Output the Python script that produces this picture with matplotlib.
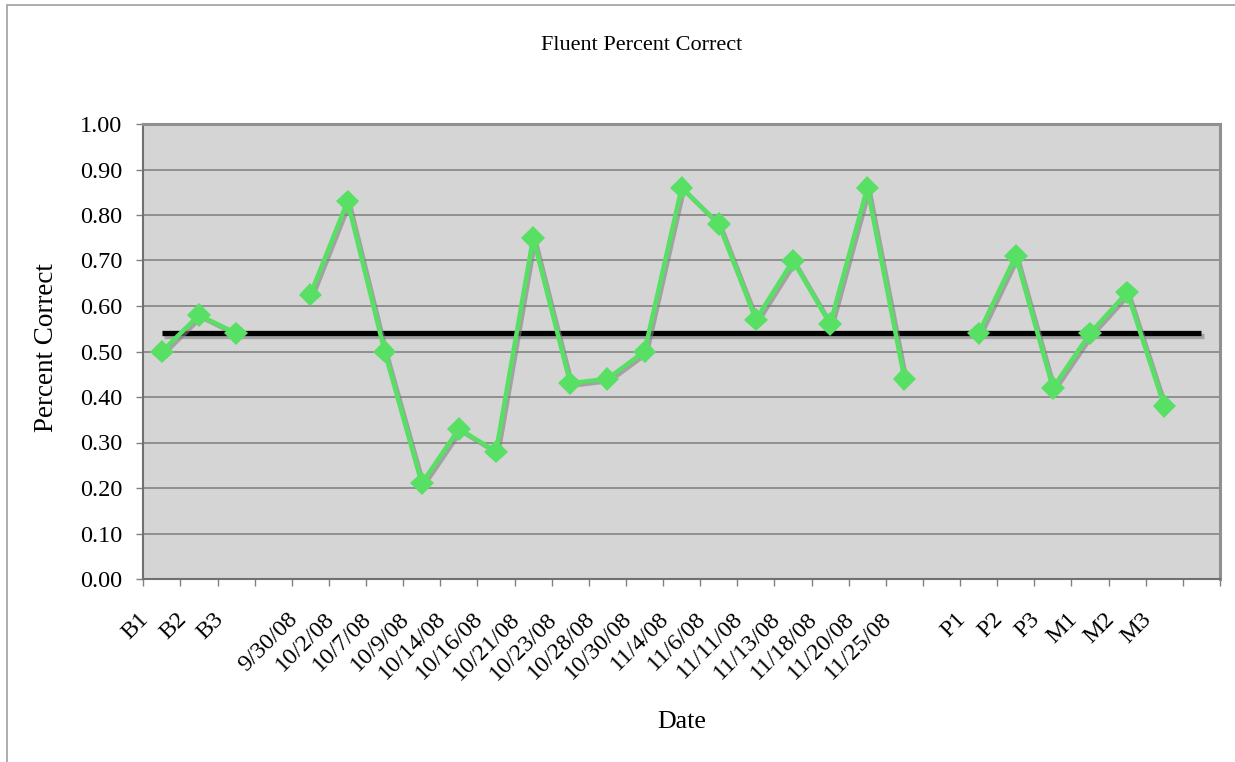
import numpy as np
import matplotlib
matplotlib.use("Agg")
import matplotlib.pyplot as plt
import matplotlib.patheffects as pe
from matplotlib.transforms import ScaledTranslation
from matplotlib.patches import Rectangle

# Categories (blank entries are the gaps between phases)
categories = ['B1', 'B2', 'B3', '',
              '9/30/08', '10/2/08', '10/7/08', '10/9/08', '10/14/08', '10/16/08',
              '10/21/08', '10/23/08', '10/28/08', '10/30/08', '11/4/08', '11/6/08',
              '11/11/08', '11/13/08', '11/18/08', '11/20/08', '11/25/08', '',
              'P1', 'P2', 'P3', 'M1', 'M2', 'M3', '']

# Fluent percent correct, None where there is no session
scores = [0.50, 0.58, 0.54, None,
          0.625, 0.83, 0.50, 0.21, 0.33, 0.28,
          0.75, 0.43, 0.44, 0.50, 0.86, 0.78,
          0.57, 0.70, 0.56, 0.86, 0.44, None,
          0.54, 0.71, 0.42, 0.54, 0.63, 0.38, None]

baseline_mean = 0.54  # mean of B1-B3

W, H = 1235, 762
fig = plt.figure(figsize=(W / 100, H / 100), dpi=100)
plt.rcParams['font.family'] = ['Liberation Serif', 'DejaVu Serif']

# outer chart frame (runs off the right and bottom of the picture)
fig.patches.append(Rectangle((7 / W, -0.1), 1.2, 1 - 5 / H + 0.1, transform=fig.transFigure,
                             fill=False, edgecolor='#a0a0a0', linewidth=1.2))

left, right, top, bottom = 143.3, 1220, 124, 579
ax = fig.add_axes([left / W, 1 - bottom / H, (right - left) / W, (bottom - top) / H])
ax.set_facecolor('#d5d5d5')

x = np.arange(len(categories))
y = np.array([np.nan if v is None else v for v in scores])
mean_line = np.full(len(categories), baseline_mean)

shadow = [pe.SimpleLineShadow(offset=(1.6, -1.6), shadow_color='#808080', alpha=0.6), pe.Normal()]

ax.plot(x, mean_line, color='black', linewidth=3.8, solid_capstyle='butt',
        path_effects=shadow, zorder=3)
ax.plot(x, y, color='#57e064', linewidth=3.2, marker='D', markersize=12,
        markeredgewidth=0, path_effects=shadow, zorder=4)

ax.set_xlim(-0.5, len(categories) - 0.5)
ax.set_ylim(0, 1.0)
ax.set_yticks(np.arange(0, 1.01, 0.1))
ax.set_yticklabels([f'{v:.2f}' for v in np.arange(0, 1.01, 0.1)])
ax.yaxis.grid(True, color='#8a8a8a', linewidth=1.3)
ax.set_axisbelow(True)

ax.set_xticks(x)
ax.set_xticklabels(categories, rotation=45, ha='right', va='center', rotation_mode='anchor')
ax.set_xticks(np.arange(-0.5, len(categories)), minor=True)
ax.tick_params(axis='x', which='major', length=0, pad=26.5, labelsize=17.5)
ax.tick_params(axis='x', which='minor', length=5, width=1, color='#808080', direction='out')
ax.tick_params(axis='y', length=5, width=1, color='#808080', pad=10, labelsize=17.5)
for lab in ax.get_xticklabels():
    lab.set_transform(lab.get_transform() + ScaledTranslation(-0.16, 0, fig.dpi_scale_trans))

for side in ['top', 'right']:
    ax.spines[side].set_color('#909090')
    ax.spines[side].set_linewidth(2.2)
for side in ['left', 'bottom']:
    ax.spines[side].set_color('#707070')
    ax.spines[side].set_linewidth(1.5)

fig.text(641.5 / W, 1 - 45 / H, 'Fluent Percent Correct', ha='center', va='center', fontsize=16)
fig.text(47 / W, 1 - 348 / H, 'Percent Correct', ha='center', va='center',
         rotation=90, fontsize=19.5)
fig.text(681.5 / W, 1 - 722 / H, 'Date', ha='center', va='center', fontsize=18.7)

fig.savefig('out.png', dpi=100, facecolor='white')
